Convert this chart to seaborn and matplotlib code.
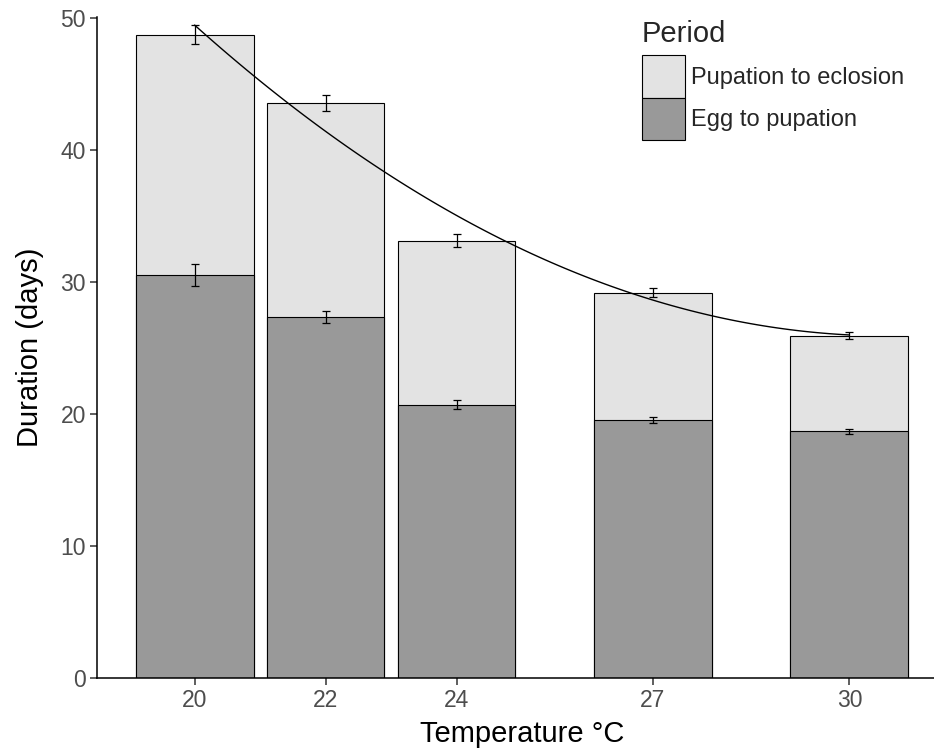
import matplotlib
matplotlib.use("Agg")
import matplotlib.pyplot as plt
import seaborn as sns
import numpy as np
import pandas as pd
from matplotlib.patches import Patch

# ---- data ----
temps = [20, 22, 24, 27, 30]
egg_to_pupation = [30.53, 27.37, 20.71, 19.55, 18.69]
egg_sd = [0.83, 0.45, 0.35, 0.25, 0.20]
total_duration = [48.75, 43.60, 33.13, 29.20, 25.95]
total_sd = [0.72, 0.60, 0.50, 0.36, 0.29]
period_labels = ["Pupation to eclosion", "Egg to pupation"]
yticks = [0, 10, 20, 30, 40, 50]

df = pd.DataFrame({"temp": temps, "egg": egg_to_pupation, "total": total_duration})

sns.set_theme(style="ticks")
plt.rcParams["font.family"] = ["Liberation Sans", "DejaVu Sans"]

fig = plt.figure(figsize=(9.34, 7.51), dpi=100)
px_left, px_right, px_bottom, px_top = 97, 947, 678, 17
ax = fig.add_axes([px_left / 934, (751 - px_bottom) / 751,
                   (px_right - px_left) / 934, (px_bottom - px_top) / 751])

light = "#E3E3E3"
dark = "#999999"

sns.barplot(data=df, x="temp", y="total", native_scale=True, width=0.9,
            color=light, edgecolor="black", linewidth=0.8, saturation=1,
            errorbar=None, ax=ax)
sns.barplot(data=df, x="temp", y="egg", native_scale=True, width=0.9,
            color=dark, edgecolor="black", linewidth=0.8, saturation=1,
            errorbar=None, ax=ax)

ax.errorbar(temps, total_duration, yerr=total_sd, fmt="none", ecolor="black",
            elinewidth=0.9, capsize=3, capthick=0.9, zorder=5)
ax.errorbar(temps, egg_to_pupation, yerr=egg_sd, fmt="none", ecolor="black",
            elinewidth=0.9, capsize=3, capthick=0.9, zorder=5)

sns.regplot(data=df, x="temp", y="total", order=2, ci=None, scatter=False,
            truncate=True, color="black", line_kws={"linewidth": 1.0, "zorder": 6}, ax=ax)

ax.set_xlim(18.51, 31.49)
ax.set_ylim(0, 50.1)
ax.set_xticks(temps)
ax.set_xticklabels([str(t) for t in temps])
ax.set_yticks(yticks)
ax.set_yticklabels([str(v) for v in yticks])

ax.tick_params(axis="both", labelsize=16.5, colors="#333333", labelcolor="#4D4D4D",
               length=5, width=1.1, pad=3)
for s in ["top", "right"]:
    ax.spines[s].set_visible(False)
for s in ["left", "bottom"]:
    ax.spines[s].set_color("black")
    ax.spines[s].set_linewidth(1.1)

ax.set_xlabel("Temperature °C", fontsize=21, color="black", labelpad=6)
ax.set_ylabel("Duration (days)", fontsize=21, color="black", labelpad=12)

handles = [Patch(facecolor=light, edgecolor="black", linewidth=0.8),
           Patch(facecolor=dark, edgecolor="black", linewidth=0.8)]
leg = ax.legend(handles, period_labels, title="Period", loc="upper left",
                bbox_to_anchor=((625 - px_left) / (px_right - px_left), 1.02), frameon=False,
                fontsize=17, title_fontsize=21, handlelength=1.85,
                handleheight=2.4, labelspacing=0.0, handletextpad=0.25,
                borderpad=0.2)
leg._legend_box.align = "left"
leg._legend_box.sep = 5

fig.savefig("out.png", dpi=100)
